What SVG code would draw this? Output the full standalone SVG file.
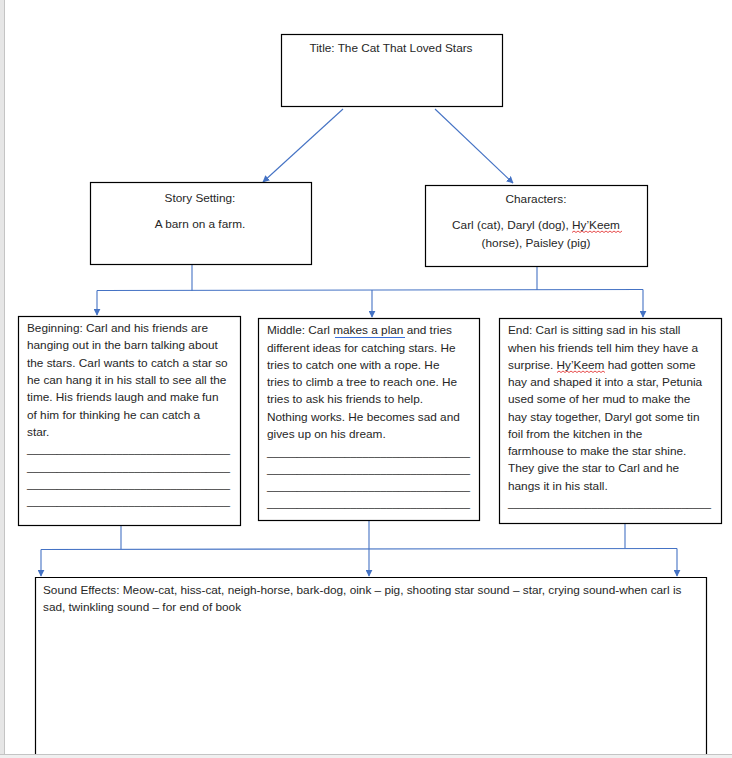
<svg xmlns="http://www.w3.org/2000/svg" width="732" height="758" viewBox="0 0 732 758">
  <style>
    .box { fill: #ffffff; stroke: #000000; stroke-width: 1.2; }
    .txt { font-family: "Liberation Sans", Arial, sans-serif; font-size: 11.8px; fill: #262626; }
    .mid { text-anchor: middle; }
    .conn { stroke: #4472C4; stroke-width: 1.1; fill: none; }
    .squig { stroke: #e02020; stroke-width: 0.8; fill: none; }
    .gram { stroke: #3a6fd8; stroke-width: 1; fill: none; }
  </style>
  <defs>
    <marker id="arrow" viewBox="0 0 10 10" refX="9" refY="5" markerWidth="7" markerHeight="7" orient="auto" markerUnits="userSpaceOnUse">
      <path d="M0,0 L10,5 L0,10 z" fill="#4472C4"/>
    </marker>
  </defs>

  <!-- page background and editor chrome -->
  <rect x="0" y="0" width="732" height="758" fill="#ffffff"/>
  <rect x="0" y="0" width="4" height="758" fill="#e6e6e6"/>
  <line x1="4.5" y1="0" x2="4.5" y2="754" stroke="#c4c4c4" stroke-width="1"/>
  <rect x="0" y="754" width="732" height="4" fill="#f0f0f0"/>
  <line x1="0" y1="754.5" x2="732" y2="754.5" stroke="#c4c4c4" stroke-width="1"/>

  <!-- connectors -->
  <g id="connectors">
    <line class="conn" x1="343" y1="109" x2="263" y2="182" marker-end="url(#arrow)"/>
    <line class="conn" x1="435" y1="109" x2="513" y2="183" marker-end="url(#arrow)"/>

    <line class="conn" x1="192" y1="264" x2="192" y2="291"/>
    <line class="conn" x1="537" y1="266" x2="537" y2="290"/>
    <line class="conn" x1="97" y1="290.5" x2="643" y2="289.5"/>
    <line class="conn" x1="97" y1="290.5" x2="97" y2="315" marker-end="url(#arrow)"/>
    <line class="conn" x1="372" y1="290" x2="372" y2="317" marker-end="url(#arrow)"/>
    <line class="conn" x1="643" y1="289.5" x2="643" y2="317" marker-end="url(#arrow)"/>

    <line class="conn" x1="121" y1="525" x2="121" y2="549"/>
    <line class="conn" x1="625" y1="523" x2="625" y2="548"/>
    <line class="conn" x1="41" y1="549.5" x2="677" y2="548.5"/>
    <line class="conn" x1="41" y1="549.5" x2="41" y2="576" marker-end="url(#arrow)"/>
    <line class="conn" x1="369" y1="520" x2="369" y2="576" marker-end="url(#arrow)"/>
    <line class="conn" x1="677" y1="548.5" x2="677" y2="576" marker-end="url(#arrow)"/>
  </g>

  <!-- title -->
  <g id="title">
    <rect class="box" x="281.5" y="34.5" width="221" height="72"/>
    <text class="txt mid" x="391" y="52">Title: The Cat That Loved Stars</text>
  </g>

  <!-- story setting -->
  <g id="setting">
    <rect class="box" x="90.5" y="182.5" width="221" height="82"/>
    <text class="txt mid" x="200" y="202">Story Setting:</text>
    <text class="txt mid" x="200" y="228">A barn on a farm.</text>
  </g>

  <!-- characters -->
  <g id="characters">
    <rect class="box" x="425.5" y="185.5" width="222" height="81"/>
    <text class="txt mid" x="536" y="203">Characters:</text>
    <text class="txt mid" x="536" y="229">Carl (cat), Daryl (dog), Hy’Keem</text>
    <text class="txt mid" x="536" y="247">(horse), Paisley (pig)</text>
    <path class="squig" d="M572,232.5 l2,-1.5 l2,1.5 l2,-1.5 l2,1.5 l2,-1.5 l2,1.5 l2,-1.5 l2,1.5 l2,-1.5 l2,1.5 l2,-1.5 l2,1.5 l2,-1.5 l2,1.5 l2,-1.5 l2,1.5 l2,-1.5 l2,1.5 l2,-1.5 l2,1.5 l2,-1.5 l2,1.5 l2,-1.5 l2,1.5 l2,-1.5"/>
  </g>

  <!-- beginning -->
  <g id="beginning">
    <rect class="box" x="18.5" y="316.5" width="222" height="209"/>
    <text class="txt" x="27" y="332">Beginning: Carl and his friends are</text>
    <text class="txt" x="27" y="349">hanging out in the barn talking about</text>
    <text class="txt" x="27" y="367">the stars. Carl wants to catch a star so</text>
    <text class="txt" x="27" y="384">he can hang it in his stall to see all the</text>
    <text class="txt" x="27" y="401">time. His friends laugh and make fun</text>
    <text class="txt" x="27" y="419">of him for thinking he can catch a</text>
    <text class="txt" x="27" y="436">star.</text>
    <text class="txt" x="27" y="453" textLength="203" lengthAdjust="spacingAndGlyphs">__________________________________</text>
    <text class="txt" x="27" y="471" textLength="203" lengthAdjust="spacingAndGlyphs">__________________________________</text>
    <text class="txt" x="27" y="488" textLength="203" lengthAdjust="spacingAndGlyphs">__________________________________</text>
    <text class="txt" x="27" y="505" textLength="203" lengthAdjust="spacingAndGlyphs">__________________________________</text>
  </g>

  <!-- middle -->
  <g id="middle">
    <rect class="box" x="258.5" y="318.5" width="221" height="202"/>
    <text class="txt" x="267" y="334">Middle: Carl makes a plan and tries</text>
    <line class="gram" x1="335" y1="337.5" x2="405" y2="337.5"/>
    <text class="txt" x="267" y="352">different ideas for catching stars. He</text>
    <text class="txt" x="267" y="369">tries to catch one with a rope. He</text>
    <text class="txt" x="267" y="386">tries to climb a tree to reach one. He</text>
    <text class="txt" x="267" y="403">tries to ask his friends to help.</text>
    <text class="txt" x="267" y="421">Nothing works. He becomes sad and</text>
    <text class="txt" x="267" y="438">gives up on his dream.</text>
    <text class="txt" x="267" y="456" textLength="203" lengthAdjust="spacingAndGlyphs">__________________________________</text>
    <text class="txt" x="267" y="473" textLength="203" lengthAdjust="spacingAndGlyphs">__________________________________</text>
    <text class="txt" x="267" y="490" textLength="203" lengthAdjust="spacingAndGlyphs">__________________________________</text>
    <text class="txt" x="267" y="507" textLength="203" lengthAdjust="spacingAndGlyphs">__________________________________</text>
  </g>

  <!-- end -->
  <g id="end">
    <rect class="box" x="499.5" y="318.5" width="222" height="205"/>
    <text class="txt" x="508" y="334">End: Carl is sitting sad in his stall</text>
    <text class="txt" x="508" y="352">when his friends tell him they have a</text>
    <text class="txt" x="508" y="369">surprise. Hy’Keem had gotten some</text>
    <path class="squig" d="M557,372.5 l2,-1.5 l2,1.5 l2,-1.5 l2,1.5 l2,-1.5 l2,1.5 l2,-1.5 l2,1.5 l2,-1.5 l2,1.5 l2,-1.5 l2,1.5 l2,-1.5 l2,1.5 l2,-1.5 l2,1.5 l2,-1.5 l2,1.5 l2,-1.5 l2,1.5 l2,-1.5 l2,1.5 l2,-1.5 l2,1.5"/>
    <text class="txt" x="508" y="386">hay and shaped it into a star, Petunia</text>
    <text class="txt" x="508" y="403">used some of her mud to make the</text>
    <text class="txt" x="508" y="421">hay stay together, Daryl got some tin</text>
    <text class="txt" x="508" y="438">foil from the kitchen in the</text>
    <text class="txt" x="508" y="455">farmhouse to make the star shine.</text>
    <text class="txt" x="508" y="472">They give the star to Carl and he</text>
    <text class="txt" x="508" y="490">hangs it in his stall.</text>
    <text class="txt" x="508" y="507" textLength="203" lengthAdjust="spacingAndGlyphs">__________________________________</text>
  </g>

  <!-- sound effects -->
  <g id="sound-effects">
    <path class="box" d="M35.5,754 V577.5 H706.5 V754"/>
    <text class="txt" x="43" y="594">Sound Effects: Meow-cat, hiss-cat, neigh-horse, bark-dog, oink – pig, shooting star sound – star, crying sound-when carl is</text>
    <text class="txt" x="43" y="611">sad, twinkling sound – for end of book</text>
  </g>
</svg>
